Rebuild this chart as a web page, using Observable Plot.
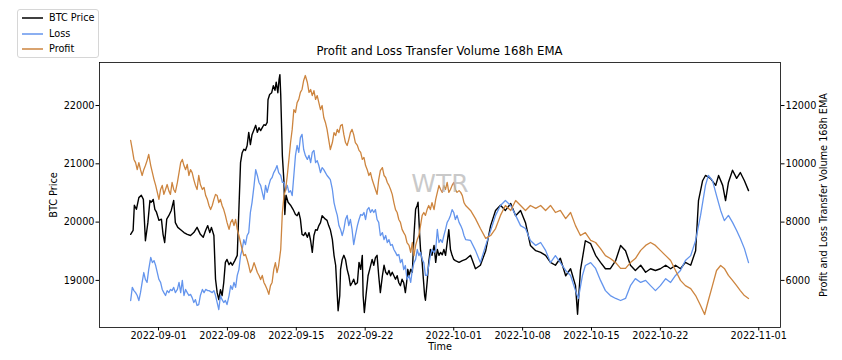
<!DOCTYPE html>
<html>
<head>
<meta charset="utf-8">
<script src="https://cdn.jsdelivr.net/npm/d3@7"></script>
<script src="https://cdn.jsdelivr.net/npm/@observablehq/plot@0.6"></script>
<style>
  html, body { margin: 0; padding: 0; background: #fff; }
  #wrap { position: relative; width: 842px; height: 360px; font-family: "DejaVu Sans", sans-serif; }
  #title { position: absolute; left: 99px; width: 681px; top: 44px; text-align: center; font-size: 11.7px; color: #000; white-space: nowrap; }
  #legend { position: absolute; left: 17px; top: 9px; width: 82px; height: 49px; box-sizing: border-box; border: 1px solid #d6d6d6; border-radius: 3px; background: #fff; }
  .row { position: absolute; left: 0; height: 14px; width: 80px; }
  .row svg { position: absolute; left: 3px; top: 0; }
  .row .lb { position: absolute; left: 31px; top: 0; font-size: 9.7px; line-height: 14px; color: #000; white-space: nowrap; }
  #chart { position: absolute; left: 0; top: 0; }
</style>
</head>
<body>
<div id="wrap">
  <div id="chart"></div>
  <div id="title"></div>
  <div id="legend"></div>
</div>
<script>
// ---- data (time = hours after 2022-08-29 00:00 UTC) ----
const startUTC = Date.UTC(2022, 7, 29);
const titleText = "Profit and Loss Transfer Volume 168h EMA";
const seriesNames = ["BTC Price", "Loss", "Profit"];
const seriesColors = ["#000000", "#6495ED", "#CD853F"];
const leftLabel = "BTC Price";
const rightLabel = "Profit and Loss Transfer Volume 168h EMA";
const xLabel = "Time";
const watermark = "WTR";
const xTicks = ["2022-09-01","2022-09-08","2022-09-15","2022-09-22","2022-10-01","2022-10-08","2022-10-15","2022-10-22","2022-11-01"];
const priceTicks = [19000, 20000, 21000, 22000];
const volumeTicks = [6000, 8000, 10000, 12000];
const priceDomain = [18192, 22738];
const xDomain = ["2022-08-26T00:00Z", "2022-11-03T05:00Z"];

const btcPrice = [
[4,19790],[10,19860],[13,20290],[18,20220],[24,20420],[30,20460],[35,20390],[40,19680],[46,19990],[51,20370],[54,20340],[59,20390],[63,20220],[67,20170],[73,20030],[79,20050],[83,19790],[87,19650],[92,20050],[97,20110],[103,20200],[109,20370],[113,19990],[119,19910],[126,19870],[134,19820],[142,19790],[150,19770],[158,19820],[166,19910],[174,19790],[181,19740],[187,19860],[192,19940],[197,19820],
[201,19910],[207,19770],[211,19020],[215,18790],[219,18670],[223,18840],[227,18740],[231,18960],[235,19310],[239,19360],[244,19270],[248,19310],[252,19260],[258,19340],[264,19430],[268,20220],[272,21020],[276,21190],[280,21250],[284,21230],[288,21310],[292,21540],[296,21330],[300,21500],[305,21590],[309,21660],[313,21540],[317,21620],[321,21570],[325,21620],[329,21670],[333,21660],[337,21710],[339,22100],[343,22190],[348,22220],[352,22340],[356,22260],[359,22400],[363,22220],[366,22450],[368,22530],[370,22190],[374,21140],[378,20680],[380,20130],[383,20460],[388,20340],[394,20290],[400,20220],
[406,20130],[410,20110],[414,20170],[418,20050],[422,19790],[426,19770],[430,19820],[435,19740],[439,19820],[443,19680],[447,19480],[451,19770],[455,19870],[459,19860],[463,19940],[467,19990],[471,20110],[475,20080],[479,20050],[483,20030],[487,19940],[491,19870],[496,19700],[500,19430],[504,19260],[508,18740],[510,18480],[514,18740],[516,19190],[520,19360],[524,19430],[528,19360],[532,19190],[536,19080],[540,18910],[544,18960],[548,19020],[552,18930],[557,18960],[561,19310],[565,19190],[569,19430],[571,18740],[574,18450],[578,18740],[583,19080],[587,19190],[593,19360],[597,19260],[601,19390],[605,19430],[609,19080],
[613,18790],[618,19080],[622,19260],[626,19140],[630,19100],[634,19170],[638,19080],[642,19140],[646,19080],[650,19020],[654,19080],[658,18960],[662,18910],[666,19020],[670,18960],[674,18790],[677,18960],[680,19190],[683,19080],[687,19190],[691,19140],[695,19770],[699,20220],[703,20290],[705,20340],[709,19770],[711,19530],[715,19310],[718,19020],[721,18740],[723,18660],[727,18960],[731,19310],[735,19530],[739,19430],[744,19600],[748,19310],[752,19530],[756,19430],[760,19480],[764,19440],[768,19530],[772,19430],[776,19650],[780,19870],[784,19530],[788,19430],[792,19360],[796,19340],[805,19310],[813,19340],[821,19360],
[833,19430],[845,19200],[857,19260],[870,19510],[882,19940],[894,20200],[906,20290],[918,20200],[931,20320],[943,20110],[955,20200],[967,19990],[979,19600],[992,19510],[1004,19480],[1016,19430],[1028,19310],[1040,19260],[1052,19380],[1065,19080],[1077,19200],[1089,18910],[1094,18420],[1101,19170],[1113,19680],[1126,19630],[1138,19430],[1150,19310],[1162,19200],[1174,19200],[1187,19340],[1199,19600],[1211,19510],[1223,19260],[1235,19170],[1248,19260],[1260,19140],[1272,19200],[1284,19170],[1296,19200],[1309,19260],[1321,19200],[1333,19260],[1345,19200],[1357,19310],[1370,19260],[1382,19510],[1389,20370],[1399,20710],[1406,20800],[1418,20750],[1431,20630],[1438,20800],[1448,20630],[1455,20370],[1462,20680],[1472,20890],[1482,20750],[1491,20850],[1501,20710],[1511,20540]
];

const lossVolume = [
[4,5310],[8,5760],[12,5650],[16,5580],[20,5480],[24,5310],[28,5580],[32,5930],[36,6270],[40,6030],[44,5930],[48,6370],[53,6790],[57,6610],[61,6680],[65,6510],[69,6270],[73,6030],[77,5930],[81,5690],[85,5580],[89,5480],[93,5650],[97,5580],[101,5690],[105,5650],[109,5760],[113,5580],[118,5690],[122,5930],[126,5580],[130,6000],[134,5480],[138,5690],[142,5580],[146,5480],[150,5520],[154,5410],[158,5240],[162,5340],[166,5140],[170,5170],[174,5480],[179,5690],[183,5580],[187,5690],[192,5650],[195,5650],
[203,5580],[207,5650],[211,5480],[215,5240],[219,5000],[223,5480],[227,5340],[231,5240],[235,5310],[239,5170],[244,5480],[248,5820],[252,5690],[256,5930],[260,5760],[264,6170],[268,6370],[272,6850],[276,7060],[280,7400],[284,7230],[288,7540],[292,7640],[296,8330],[300,8670],[305,9260],[309,9800],[313,9600],[317,9360],[321,9260],[325,9020],[329,8780],[333,9260],[337,9020],[341,9260],[345,9460],[349,9530],[353,9700],[357,9800],[361,9940],[365,9700],[370,9600],[374,9360],[378,9360],[382,9080],[386,9260],[390,9020],[394,9080],[398,8910],
[402,9600],[406,10290],[410,10630],[414,10390],[418,10900],[422,11010],[426,10490],[430,10290],[435,10150],[439,10290],[443,10040],[447,10390],[451,10460],[455,10040],[459,10110],[463,9940],[467,9700],[471,9870],[475,9800],[479,9700],[483,9600],[487,9530],[491,9460],[496,9120],[500,8670],[504,8430],[508,8230],[512,7880],[516,7750],[520,7540],[524,7750],[528,8090],[532,8230],[536,7880],[540,8090],[544,7750],[548,7230],[552,7540],[557,7880],[561,8090],[565,8260],[569,8230],[573,8330],[577,8090],[581,8430],[585,8500],[589,8330],[593,8430],[597,8330],[601,8430],[605,8090],[609,7990],
[613,7540],[618,7640],[622,7400],[626,7540],[630,7300],[634,7400],[638,7200],[642,7230],[646,7060],[650,6960],[654,6850],[658,6890],[662,6610],[666,6720],[670,6370],[674,6510],[678,6030],[683,6170],[687,5930],[691,6370],[695,6610],[699,6720],[703,7060],[707,6850],[711,6960],[715,6720],[719,6610],[723,6170],[727,6170],[731,6510],[735,6850],[739,7060],[744,6960],[748,7060],[752,7750],[756,7300],[760,7400],[764,7300],[768,7540],[772,7750],[776,7990],[780,8090],[784,8230],[788,8430],[792,8330],[796,8090],[800,8230],[805,7990],[809,7880],[813,7750],[817,7540],[821,7400],
[833,7370],[845,7030],[857,6610],[870,7200],[882,7710],[894,8230],[906,8570],[918,8740],[931,8570],[943,8230],[955,7880],[967,7780],[979,7370],[992,7200],[1004,7300],[1016,7030],[1028,6610],[1040,6850],[1052,6610],[1065,6340],[1077,6170],[1089,5650],[1096,5380],[1106,6170],[1113,6510],[1126,6610],[1138,6410],[1150,6000],[1162,5650],[1174,5480],[1187,5380],[1199,5310],[1211,5380],[1223,5820],[1235,6060],[1248,5930],[1260,6000],[1272,5820],[1284,5650],[1296,5820],[1309,6060],[1321,5930],[1333,6170],[1345,6340],[1357,6680],[1370,6850],[1382,7370],[1394,8230],[1406,9260],[1413,9600],[1423,9430],[1433,8910],[1443,8400],[1452,8050],[1462,8230],[1472,7990],[1482,7710],[1491,7440],[1501,7090],[1511,6610]
];

const profitVolume = [
[4,10800],[8,10490],[12,10150],[16,10040],[20,9800],[24,10040],[28,9800],[32,9600],[36,9800],[40,9940],[44,10110],[48,10320],[53,9940],[57,9700],[61,9460],[65,9260],[69,9020],[73,8780],[77,9120],[81,9260],[85,8950],[89,9120],[93,9290],[97,9080],[101,8950],[105,9360],[109,9120],[113,9020],[118,9360],[122,9700],[126,10040],[130,10150],[134,9940],[138,9800],[142,9980],[146,9600],[150,9800],[154,9700],[158,9460],[162,9260],[166,9120],[170,9600],[174,9290],[179,9120],[183,9190],[187,8910],[191,8780],[195,8570],
[199,8430],[203,8570],[207,8780],[211,8950],[215,8910],[219,8670],[223,8780],[227,8570],[231,8430],[235,8230],[239,7990],[244,7750],[248,7990],[252,8090],[256,7880],[260,8090],[264,7750],[268,7540],[272,7300],[276,7060],[280,6850],[284,6890],[288,6720],[292,6510],[296,6270],[300,6370],[305,6610],[309,6440],[313,6270],[317,6170],[321,6030],[325,6170],[329,5930],[333,5820],[337,5690],[341,5520],[345,5820],[349,5930],[353,6370],[357,6610],[361,6270],[365,6510],[370,7060],[374,8330],[378,8910],[382,9120],[386,9600],[390,10150],[394,10730],[398,11180],
[402,11860],[406,11760],[410,12100],[414,12210],[418,12450],[422,12550],[426,12860],[430,13030],[435,12790],[439,12450],[443,12550],[447,12340],[451,12510],[455,12210],[459,12340],[463,12100],[467,11860],[471,12000],[475,11590],[479,11420],[483,11180],[487,10830],[491,10490],[496,10730],[500,11070],[504,10970],[508,11180],[512,11070],[516,11310],[520,11350],[524,11000],[528,10730],[532,10630],[536,10830],[540,11070],[544,11180],[548,11000],[552,10730],[557,10630],[561,10460],[565,10390],[569,10150],[573,10220],[577,9940],[581,9800],[585,9600],[589,9700],[593,9460],[597,9290],[601,9120],[605,8950],[609,9460],
[613,9770],[618,9870],[622,9600],[626,9530],[630,9360],[634,9260],[638,9120],[642,8950],[646,8670],[650,8430],[654,8330],[658,8090],[662,7990],[666,7750],[670,7640],[674,7540],[678,7300],[683,7200],[687,6960],[691,7300],[695,6850],[699,7200],[703,7400],[707,7540],[711,7880],[715,8230],[719,8330],[723,8230],[727,8430],[731,8570],[735,8430],[739,8670],[744,8430],[748,8780],[752,9020],[756,9260],[760,9120],[764,9020],[768,9260],[772,9120],[776,9360],[780,9020],[784,9120],[788,9260],[792,9360],[796,9120],[800,9020],[805,9080],[809,9020],[813,8910],[817,8670],[821,8570],
[833,8400],[845,8120],[857,7780],[870,7440],[882,7540],[894,7780],[906,8230],[918,8570],[931,8400],[943,8740],[955,8570],[967,8400],[979,8570],[992,8470],[1004,8570],[1016,8400],[1028,8570],[1040,8330],[1052,8400],[1065,8120],[1077,8330],[1089,7880],[1101,7540],[1113,7640],[1126,7370],[1138,7300],[1150,7090],[1162,6850],[1174,6750],[1187,6610],[1199,6410],[1211,6410],[1223,6610],[1235,6750],[1248,7030],[1260,7200],[1272,7300],[1284,7200],[1296,7030],[1309,6850],[1321,6680],[1333,6340],[1345,6000],[1357,5820],[1370,5720],[1382,5480],[1394,5140],[1404,4830],[1413,5310],[1423,5820],[1433,6340],[1443,6510],[1452,6410],[1462,6170],[1472,6000],[1482,5820],[1491,5650],[1501,5480],[1511,5380]
];

// ---- helpers ----
const toDate = h => new Date(startUTC + h * 3600e3);
// volume axis (right) shares pixel positions with price axis: 6000<->19000, 12000<->22000
const volToPrice = v => (v + 32000) / 2;
const priceToVol = p => 2 * p - 32000;

const chart = Plot.plot({
  width: 842,
  height: 360,
  marginLeft: 99,
  marginRight: 62,
  marginTop: 62,
  marginBottom: 33,
  style: { fontFamily: "DejaVu Sans, sans-serif", fontSize: "9.7px", background: "#fff", color: "#000", overflow: "visible" },
  x: { type: "utc", domain: xDomain.map(s => new Date(s)) },
  y: { domain: priceDomain },
  marks: [
    Plot.line(btcPrice, { x: d => toDate(d[0]), y: d => d[1], stroke: seriesColors[0], strokeWidth: 1.4 }),
    Plot.line(lossVolume, { x: d => toDate(d[0]), y: d => volToPrice(d[1]), stroke: seriesColors[1], strokeWidth: 1.3 }),
    Plot.line(profitVolume, { x: d => toDate(d[0]), y: d => volToPrice(d[1]), stroke: seriesColors[2], strokeWidth: 1.3 }),
    Plot.text([watermark], { frameAnchor: "middle", dy: -11, fontSize: 25, fill: "#b8b8b8", fillOpacity: 0.75 }),
    Plot.axisX({ ticks: xTicks.map(s => new Date(s + "T00:00Z")), tickFormat: d3.utcFormat("%Y-%m-%d"), tickSize: 3.5, tickPadding: 1.5, label: null }),
    Plot.axisY({ anchor: "left", ticks: priceTicks, tickFormat: d => String(d), tickSize: 3.5, tickPadding: 1.5, label: null }),
    Plot.axisY({ anchor: "right", ticks: volumeTicks.map(volToPrice), tickFormat: d => String(priceToVol(d)), tickSize: 3.5, tickPadding: 1.5, label: null }),
    Plot.frame({ stroke: "#000", strokeWidth: 0.8 }),
    Plot.text([xLabel], { frameAnchor: "bottom", dy: 22, fontSize: 9.7 }),
    Plot.text([leftLabel], { frameAnchor: "left", dx: -46, rotate: -90, textAnchor: "middle", fontSize: 9.7 }),
    Plot.text([rightLabel], { frameAnchor: "right", dx: 43, rotate: -90, textAnchor: "middle", fontSize: 9.7 })
  ]
});
document.getElementById("chart").appendChild(chart);
document.getElementById("title").textContent = titleText;

const legend = document.getElementById("legend");
const svgNS = "http://www.w3.org/2000/svg";
seriesNames.forEach((name, i) => {
  const row = document.createElement("div");
  row.className = "row";
  row.style.top = (1 + i * 15.5) + "px";
  const sw = document.createElementNS(svgNS, "svg");
  sw.setAttribute("width", "24");
  sw.setAttribute("height", "14");
  const ln = document.createElementNS(svgNS, "line");
  ln.setAttribute("x1", "1"); ln.setAttribute("x2", "22");
  ln.setAttribute("y1", "7"); ln.setAttribute("y2", "7");
  ln.setAttribute("stroke", seriesColors[i]);
  ln.setAttribute("stroke-width", "1.5");
  sw.appendChild(ln);
  const lb = document.createElement("span");
  lb.className = "lb";
  lb.textContent = name;
  row.appendChild(sw);
  row.appendChild(lb);
  legend.appendChild(row);
});
</script>
</body>
</html>
